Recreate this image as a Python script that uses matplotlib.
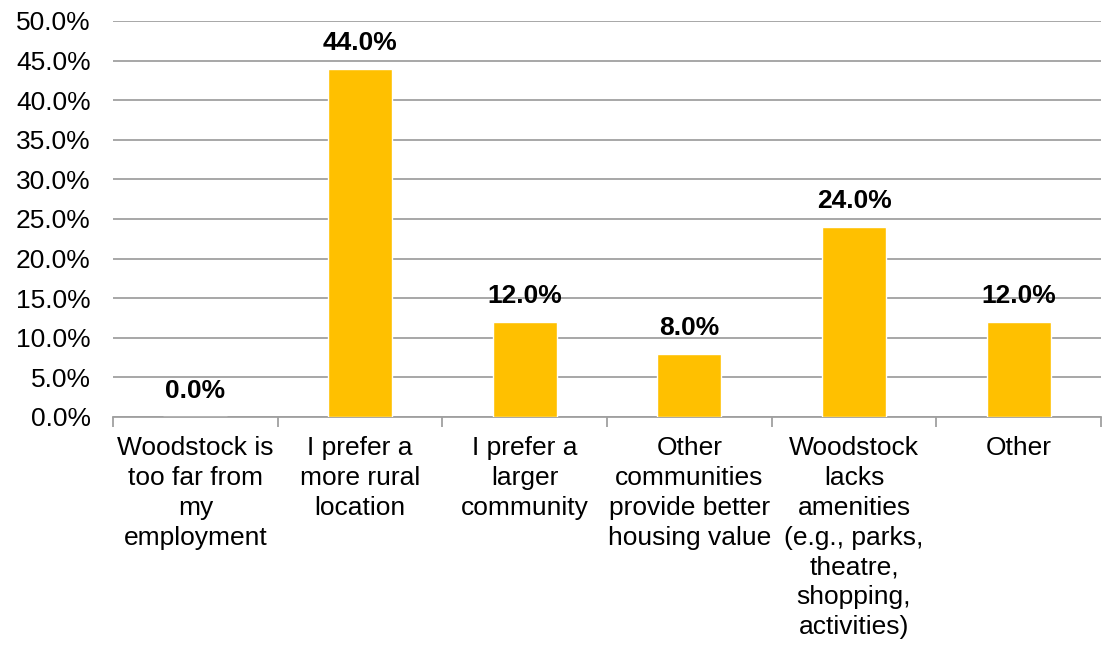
import matplotlib
matplotlib.use("Agg")
import matplotlib.pyplot as plt
from matplotlib.ticker import FuncFormatter, MultipleLocator, FixedLocator

categories = [
    "Woodstock is\ntoo far from\nmy\nemployment",
    "I prefer a\nmore rural\nlocation",
    "I prefer a\nlarger\ncommunity",
    "Other\ncommunities\nprovide better\nhousing value",
    "Woodstock\nlacks\namenities\n(e.g., parks,\ntheatre,\nshopping,\nactivities)",
    "Other",
]
values = [0.0, 44.0, 12.0, 8.0, 24.0, 12.0]

plt.rcParams["font.family"] = ["Liberation Sans", "DejaVu Sans"]
FS = 19

fig = plt.figure(figsize=(11.03, 6.5), dpi=100)
ax = fig.add_axes([113 / 1103, 1 - 417 / 650, (1101 - 113) / 1103, (417 - 21) / 650])

x = list(range(len(categories)))
ax.bar(x, values, width=0.39, color="#FFC000", edgecolor="white",
       linewidth=1.0, zorder=3)

for xi, v in zip(x, values):
    ax.annotate(f"{v:.1f}%", (xi, v), xytext=(0, 10), textcoords="offset points",
                ha="center", va="bottom", fontsize=FS, fontweight="bold",
                color="black")

ax.set_xlim(-0.5, len(categories) - 0.5)
ax.set_ylim(0, 50)
ax.yaxis.set_major_locator(MultipleLocator(5))
ax.yaxis.set_major_formatter(FuncFormatter(lambda v, _: f"{v:.1f}%"))
ax.grid(axis="y", color="#A0A0A0", linewidth=1.3, zorder=0)
ax.set_axisbelow(True)

ax.set_xticks(x)
ax.set_xticklabels(categories, fontsize=FS, linespacing=1.3)
ax.xaxis.set_minor_locator(FixedLocator([i - 0.5 for i in range(len(categories) + 1)]))
ax.tick_params(axis="x", which="major", length=0, pad=14)
ax.tick_params(axis="x", which="minor", length=7, width=1.3, color="#A0A0A0")
ax.tick_params(axis="y", length=0, labelsize=FS, pad=16)

for side in ("left", "right", "top"):
    ax.spines[side].set_visible(False)
ax.spines["bottom"].set_color("#A0A0A0")
ax.spines["bottom"].set_linewidth(1.3)

fig.savefig("out.png", dpi=100)
